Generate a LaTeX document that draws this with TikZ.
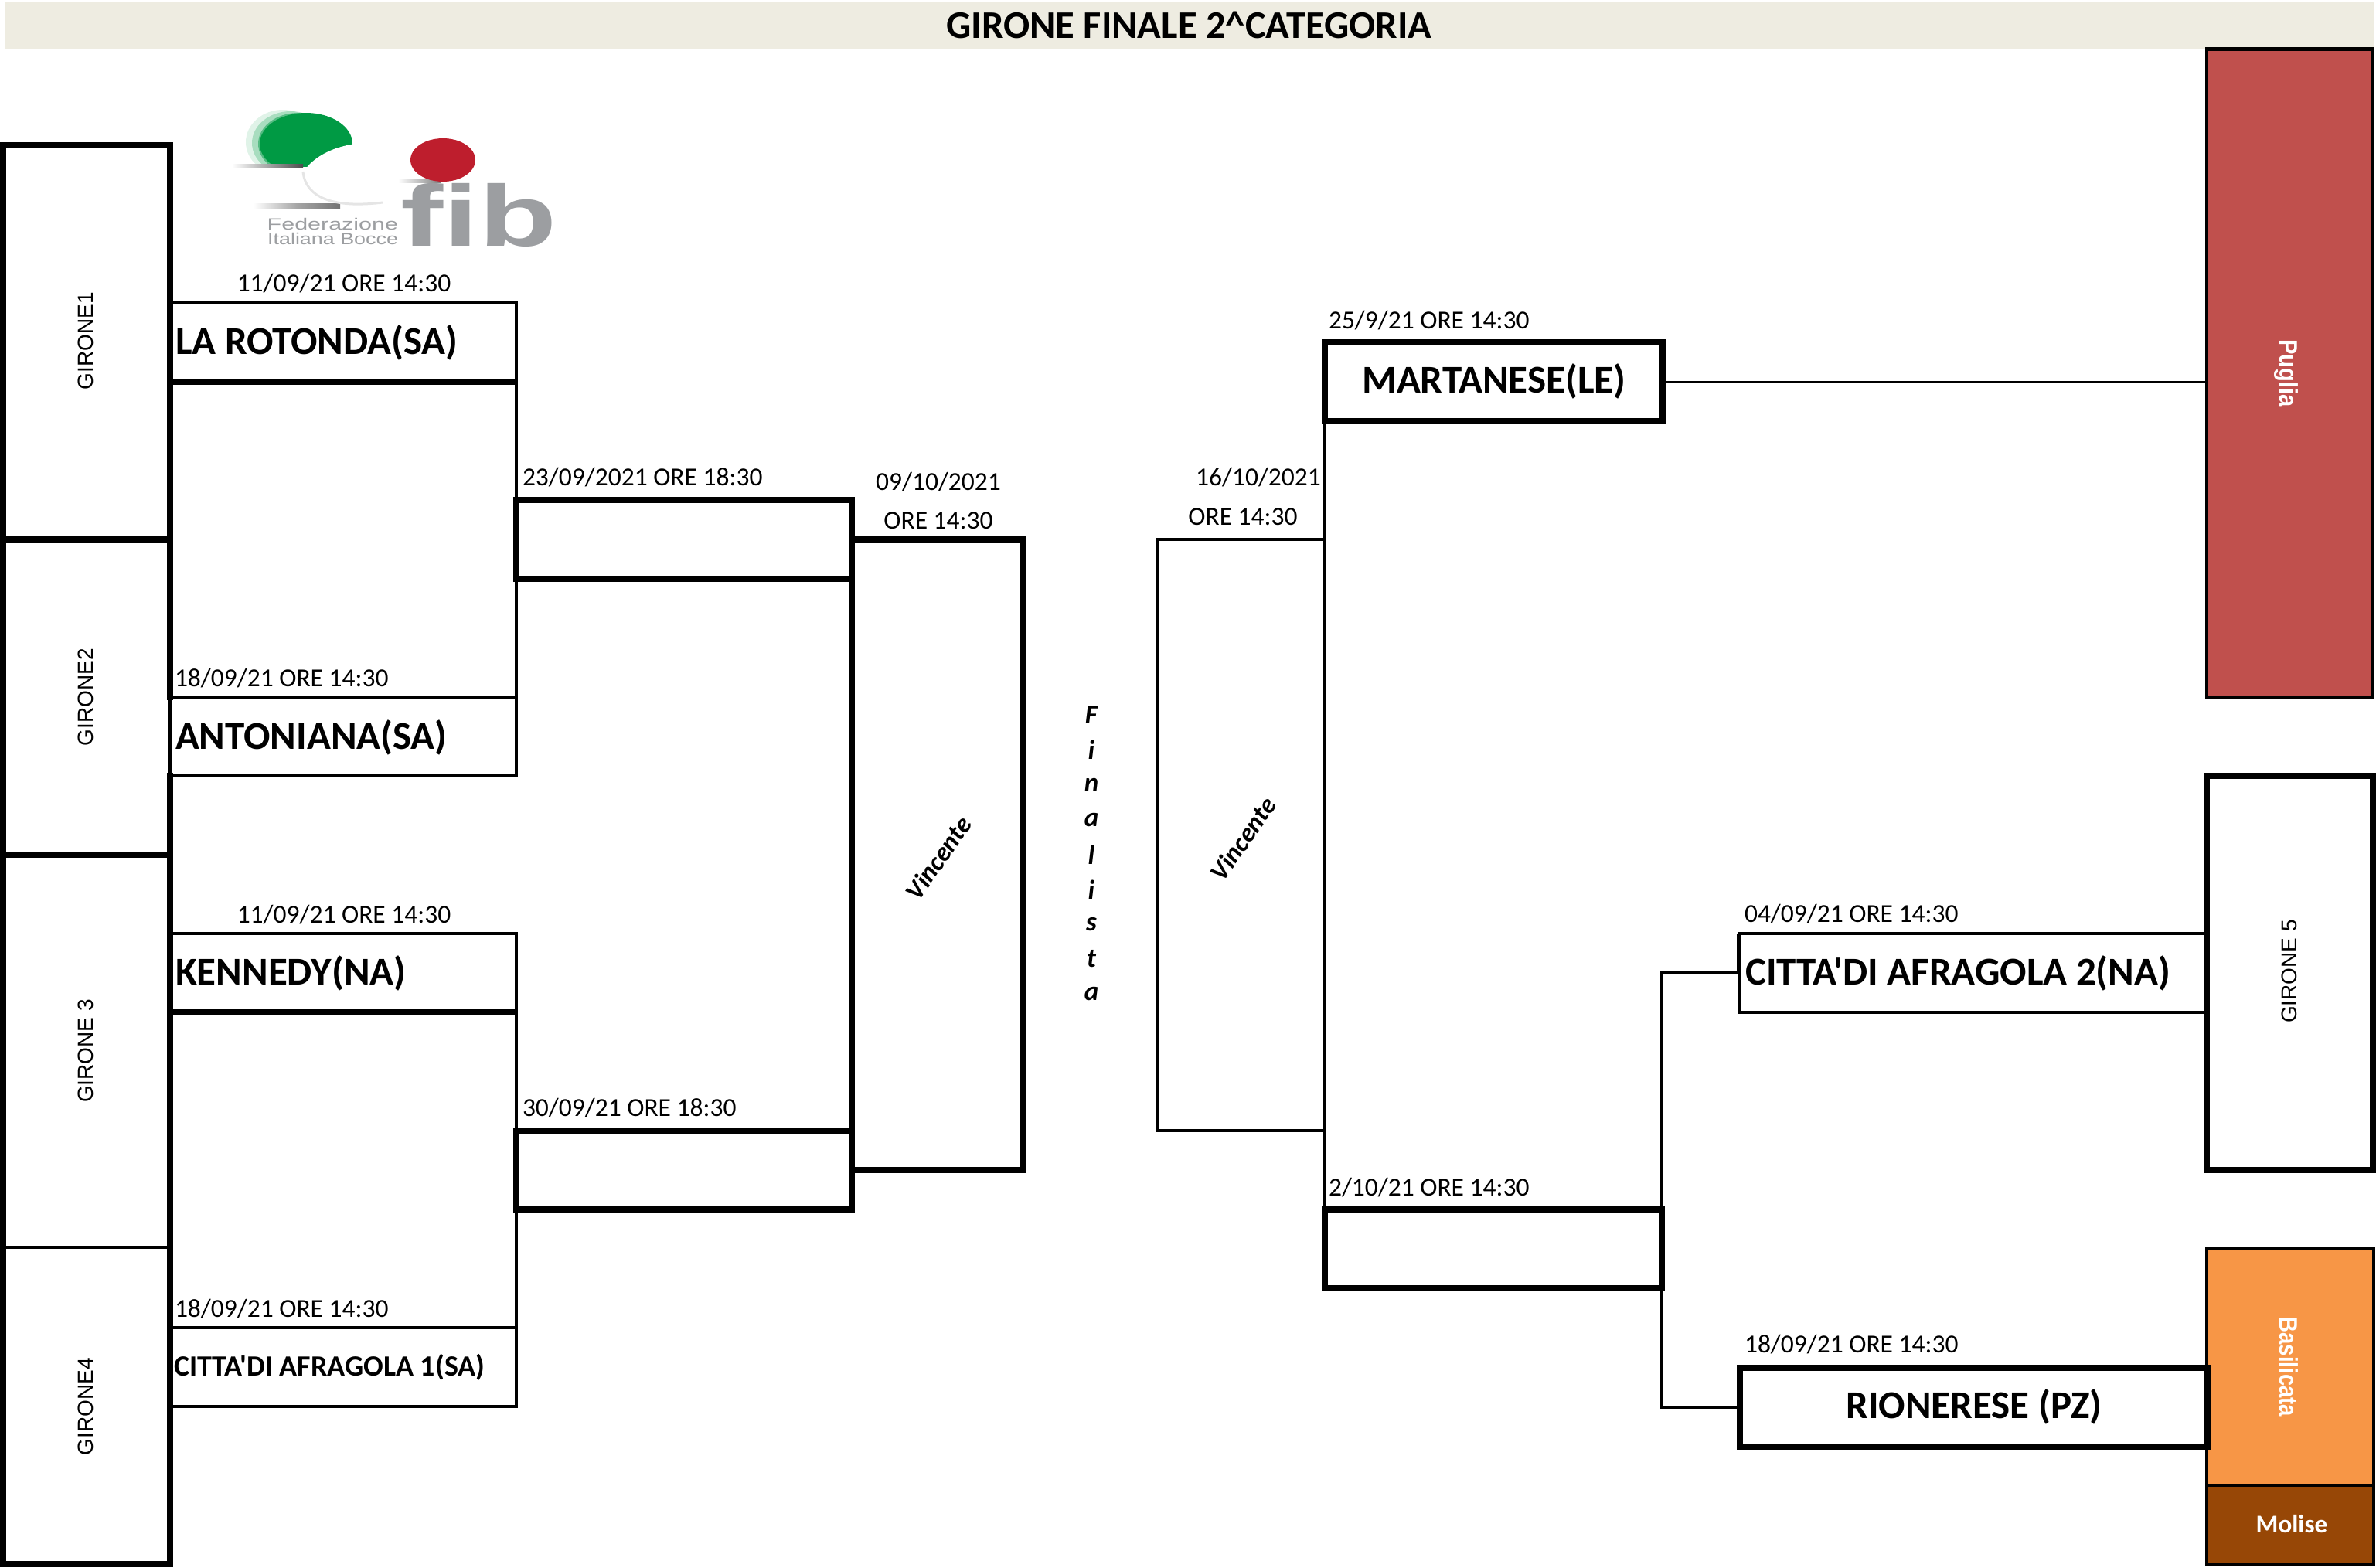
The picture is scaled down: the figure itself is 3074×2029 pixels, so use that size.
\documentclass[tikz,border=0pt]{standalone}
\usepackage{fontspec}
\setmainfont{Carlito}[Ligatures=TeXOff]
\newfontfamily\arialf{Liberation Sans}
\usetikzlibrary{calc}
\definecolor{bandc}{HTML}{EEECE1}
\definecolor{puglia}{HTML}{C0504D}
\definecolor{basil}{HTML}{F79646}
\definecolor{molise}{HTML}{974706}
\definecolor{logogreen}{HTML}{009A44}
\definecolor{logored}{HTML}{BE1E2D}
\definecolor{logogrey}{HTML}{9C9EA1}
\newcommand{\fsz}[1]{\fontsize{#1}{#1}\selectfont}
\newcommand{\bx}[6][]{%
  \node[boxn,#1,minimum width=#5pt-#3pt,minimum height=#6pt-#4pt] (#2) at ({(#3+#5)/2},{(#4+#6)/2}) {};}
\tikzset{
  boxn/.style={inner sep=0pt,outer sep=0pt,line width=4pt,rectangle},
  thinl/.style={draw=black,line width=4pt},
  thickl/.style={draw=black,line width=8pt,line cap=rect},
  thickb/.style={draw=black,line width=8pt},
  hair/.style={draw=black,line width=3pt},
  dateT/.style={inner sep=0pt,outer sep=0pt,font=\fsz{33.5}},
  nameT/.style={inner sep=0pt,outer sep=0pt,font=\fsz{51}\bfseries},
  gironeT/.style={inner sep=0pt,outer sep=0pt,rotate=90,font=\arialf\fsz{28}},
  regionT/.style={inner sep=0pt,outer sep=0pt,rotate=-90,text=white,font=\arialf\fsz{27.5}\bfseries},
  letterT/.style={inner sep=0pt,outer sep=0pt,font=\fsz{35}\bfseries\itshape},
  vincT/.style={inner sep=0pt,outer sep=0pt,rotate=55,font=\fsz{34}\bfseries\itshape},
  logoT/.style={inner sep=0pt,outer sep=0pt,text=logogrey}
}
\begin{document}
\begin{tikzpicture}[x=1pt,y=-1pt]
\useasboundingbox (0,0) rectangle (3074,2029);
% title band
\bx[fill=bandc]{band}{6}{2}{3071}{63}
\node[nameT,font=\fsz{50.6}\bfseries] (title) at (band) {GIRONE FINALE 2\char`\^CATEGORIA};
% logo
\begin{scope}
  \clip (290,140) rectangle (470,215);
  \fill[logogreen,opacity=.12] (366,184) ellipse (48 and 42);
  \fill[logogreen,opacity=.25] (376,185) ellipse (50 and 41);
  \fill[logogreen,opacity=.5] (386,186) ellipse (52 and 40);
  \fill[logogreen] (396,186) ellipse (60 and 40);
  \fill[white] (478,245) ellipse (92 and 60);
\end{scope}
\shade[left color=white,right color=black!70] (300,212) rectangle (392,217);
\shade[left color=white,right color=black!55,middle color=black!35] (328,263) rectangle (440,269);
\shade[left color=white,right color=black!50] (515,231) rectangle (570,236);
\draw[black!10,line width=3pt] (392,222) .. controls (395,255) and (430,270) .. (495,262);
\fill[logored] (573,207) ellipse (42 and 28);
\node[logoT,anchor=base west,font=\arialf\fsz{112}\bfseries] (fib) at (518,318) {\scalebox{1.48}[1]{fib}};
\node[logoT,anchor=base east,font=\arialf\fsz{21}] (fed) at (515,297) {\scalebox{1.45}[1]{Federazione}};
\node[logoT,anchor=base east,font=\arialf\fsz{21}] (ita) at (515,316) {\scalebox{1.28}[1]{Italiana Bocce}};
% left gironi
\bx{g1}{4}{188}{220}{698}
\bx{g2}{4}{698}{220}{1106}
\bx{g3}{4}{1106}{220}{1614}
\bx{g4}{4}{1614}{220}{2024}
\node[gironeT] (g1t) at (111,441) {GIRONE1};
\node[gironeT] (g2t) at (111,902) {GIRONE2};
\node[gironeT] (g3t) at (111,1360) {GIRONE 3};
\node[gironeT] (g4t) at (111,1820) {GIRONE4};
% team boxes left
\bx[thinl]{t1}{220}{392}{668}{494}
\bx[thinl]{t2}{220}{902}{668}{1004}
\bx[thinl]{t3}{220}{1208}{668}{1310}
\bx[thinl]{t4}{220}{1718}{668}{1820}
\bx[thickb]{b1}{668}{647}{1102}{749}
\bx[thickb]{b2}{668}{1463}{1102}{1565}
\bx[thickb]{v1}{1102}{698}{1324}{1514}
\draw[thinl] (t1.south east) -- (b1.north west);
\draw[thinl] (b1.south west) -- (t2.north east);
\draw[thinl] (t3.south east) -- (b2.north west);
\draw[thinl] (b2.south west) -- (t4.north east);
\draw[thickb] (t1.south west) -- ([xshift=2pt]t1.south east);
\draw[thickb] (t3.south west) -- ([xshift=2pt]t3.south east);
% gironi outlines (thick and thin sides)
\draw[thickl] (g1.south west) -- (g1.north west) -- (g1.north east) -- (t2.north west);
\draw[thickl] (g1.south west) -- (g1.south east);
\draw[thickl] (g2.south west) -- (g1.south west);
\draw[thickl] (t2.south west) -- (g3.south east);
\draw[thickl] (g2.south west) -- (g2.south east);
\draw[thickl] (g2.south west) -- (g4.south west) -- (g4.south east) -- (g2.south east);
\draw[thinl] (g3.south west) -- (g3.south east);
% right side
\bx[fill=puglia,thinl,line width=4.5pt]{pu}{2855}{63.5}{3070}{902}
\bx[fill=basil,thinl]{ba}{2855}{1616}{3071}{1922}
\bx[fill=molise,thinl]{mo}{2855}{1922}{3071}{2025}
\bx[thinl]{a2}{2250}{1208}{2855}{1310}
\bx[thickb]{g5}{2855}{1004}{3070}{1514}
\bx[thickb,fill=white]{ri}{2251}{1770}{2856}{1872}
\bx[thickb]{ma}{1714}{443}{2151}{545}
\bx[thickb]{b3}{1714}{1565}{2150}{1667}
\bx[thinl]{v2}{1498}{698}{1714}{1463}
\draw[thinl] (ma.south west) -- (b3.north west);
\draw[hair] (ma.east) -- (ma.east -| pu.west);
\draw[thinl] (a2.west) -- (a2.west -| b3.east) -- (ri.west -| b3.east) -- (ri.west);
\draw[line width=6pt] (a2.north west) -- (a2.west);
% region and girone labels
\node[regionT] (pul) at (2958,483) {\scalebox{1.06}[1.2]{Puglia}};
\node[regionT] (bal) at (2961,1769) {\scalebox{1}[1.2]{Basilicata}};
\node[inner sep=0pt,outer sep=0pt,text=white,font=\fsz{33}\bfseries] (mol) at (2965,1972) {Molise};
\node[gironeT] (g5t) at (2962,1257) {GIRONE 5};
% team names
\node[nameT,anchor=base west] (n1) at (227,458) {LA ROTONDA(SA)};
\node[nameT,anchor=base west] (n2) at (227,969) {ANTONIANA(SA)};
\node[nameT,anchor=base west] (n3) at (227,1274) {KENNEDY(NA)};
\node[nameT,anchor=base west,font=\fsz{38}\bfseries] (n4) at (225,1780) {CITTA'DI AFRAGOLA 1(SA)};
\node[nameT,anchor=base] (n5) at (1933,508) {MARTANESE(LE)};
\node[nameT,anchor=base] (n6) at (2554,1835) {RIONERESE (PZ)};
\node[nameT,anchor=base west] (n7) at (2258,1274) {CITTA'DI AFRAGOLA 2(NA)};
% dates
\node[dateT,anchor=base] (d1) at (445,377) {11/09/21 ORE 14:30};
\node[dateT,anchor=base west] (d2) at (676,628) {23/09/2021 ORE 18:30};
\node[dateT,anchor=base] (d3) at (1214,634) {09/10/2021};
\node[dateT,anchor=base] (d4) at (1214,684) {ORE 14:30};
\node[dateT,anchor=base] (d5) at (1628,628) {16/10/2021};
\node[dateT,anchor=base] (d6) at (1608,679) {ORE 14:30};
\node[dateT,anchor=base west] (d7) at (1719,425) {25/9/21 ORE 14:30};
\node[dateT,anchor=base west] (d8) at (226,888) {18/09/21 ORE 14:30};
\node[dateT,anchor=base] (d9) at (445,1194) {11/09/21 ORE 14:30};
\node[dateT,anchor=base west] (d10) at (676,1444) {30/09/21 ORE 18:30};
\node[dateT,anchor=base west] (d11) at (226,1704) {18/09/21 ORE 14:30};
\node[dateT,anchor=base west] (d12) at (1719,1547) {2/10/21 ORE 14:30};
\node[dateT,anchor=base west] (d13) at (2257,1193) {04/09/21 ORE 14:30};
\node[dateT,anchor=base west] (d14) at (2257,1750) {18/09/21 ORE 14:30};
% finalista
\node[letterT] (f1) at (1412,925) {F};
\node[letterT] (f2) at (1412,970) {i};
\node[letterT] (f3) at (1412,1016) {n};
\node[letterT] (f4) at (1412,1061) {a};
\node[letterT] (f5) at (1412,1106) {l};
\node[letterT] (f6) at (1412,1151) {i};
\node[letterT] (f7) at (1412,1196) {s};
\node[letterT] (f8) at (1412,1241) {t};
\node[letterT] (f9) at (1412,1286) {a};
\node[vincT] (v1t) at (1214,1110) {Vincente};
\node[vincT] (v2t) at (1608,1085) {Vincente};
\end{tikzpicture}
\end{document}
